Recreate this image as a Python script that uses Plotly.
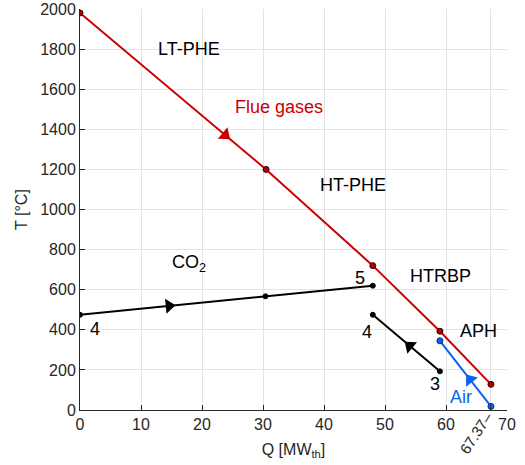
import math
import plotly.graph_objects as go

# Flue gas stream through LT-PHE, HT-PHE, HTRBP and APH
flue_q = [0.0, 30.5, 48.0, 59.0, 67.37]
flue_t = [1980, 1200, 720, 393, 128]

# CO2 stream 4 -> 5
co2_q = [0.0, 30.4, 48.0]
co2_t = [475, 567, 620]

# CO2 stream 3 -> 4 in the recuperator
co2b_q = [59.0, 48.0]
co2b_t = [193, 475]

# Combustion air in the APH
air_q = [67.37, 59.0]
air_t = [18, 345]

x_ticks = [0, 10, 20, 30, 40, 50, 60, 67.37, 70]
x_ticktext = ["0", "10", "20", "30", "40", "50", "60", " ", "70"]
y_ticks = list(range(0, 2001, 200))

X_RANGE = [0, 70]
Y_RANGE = [0, 2000]
W, H = 525, 465
MARGIN = dict(l=80, r=18, t=9, b=55)

RED = "#CC0000"
BLUE = "#0A64F0"
BLACK = "#000000"
AX = "#262626"
FONT = "Liberation Sans, Arial, sans-serif"

# pixel scale of the plot area, used to orient the flow-direction triangles
px_per_q = (W - MARGIN["l"] - MARGIN["r"]) / (X_RANGE[1] - X_RANGE[0])
px_per_t = (H - MARGIN["t"] - MARGIN["b"]) / (Y_RANGE[1] - Y_RANGE[0])

fig = go.Figure()


def stream(q, t, color, mfill, mline, msize):
    fig.add_trace(go.Scatter(
        x=q, y=t, mode="lines+markers",
        line=dict(color=color, width=2),
        marker=dict(size=msize, color=mfill, line=dict(color=mline, width=1)),
        hoverinfo="skip", showlegend=False))


def arrow(q, t, seg, frac, color):
    # triangle placed a fraction of the way along segment `seg`, pointing downstream
    q0, q1 = q[seg], q[seg + 1]
    t0, t1 = t[seg], t[seg + 1]
    qa = q0 + frac * (q1 - q0)
    ta = t0 + frac * (t1 - t0)
    ang = math.degrees(math.atan2((q1 - q0) * px_per_q, (t1 - t0) * px_per_t))
    fig.add_trace(go.Scatter(
        x=[qa], y=[ta], mode="markers",
        marker=dict(symbol="triangle-up", angle=ang,
                    size=13, color=color, line=dict(width=0)),
        hoverinfo="skip", showlegend=False))


stream(flue_q, flue_t, RED, "#B00000", "#3A0000", 6)
stream(co2_q, co2_t, BLACK, BLACK, BLACK, 5)
stream(co2b_q, co2b_t, BLACK, BLACK, BLACK, 5)
stream(air_q, air_t, BLUE, "#0A64F0", "#00307A", 6)

arrow(flue_q, flue_t, 0, 0.78, RED)
arrow(co2_q, co2_t, 0, 0.48, BLACK)
arrow(co2b_q, co2b_t, 0, 0.45, BLACK)
arrow(air_q, air_t, 0, 0.41, BLUE)

labels = [
    ("LT-PHE", 17.8, 1800, "black"),
    ("Flue gases", 32.7, 1512, RED),
    ("HT-PHE", 44.8, 1120, "black"),
    ("CO<sub>2</sub>", 17.8, 730, "black"),
    ("5", 45.9, 659, "black"),
    ("HTRBP", 59.1, 666, "black"),
    ("4", 2.5, 405, "black"),
    ("4", 47.0, 389, "black"),
    ("APH", 65.3, 396, "black"),
    ("3", 58.25, 131, "black"),
    ("Air", 62.4, 66, BLUE),
]
for txt, x, y, col in labels:
    fig.add_annotation(x=x, y=y, text=txt, showarrow=False,
                       xanchor="center", yanchor="middle",
                       font=dict(family=FONT, size=18, color=col))

# rotated label for the end of the heat-transfer range
fig.add_annotation(x=67.37, y=0, xref="x", yref="y", text="67.37–",
                   showarrow=False, textangle=-57,
                   xanchor="center", yanchor="middle",
                   xshift=-15, yshift=-22,
                   font=dict(family=FONT, size=15, color=AX))

axis_common = dict(
    showline=True, linecolor=AX, linewidth=1, mirror=False,
    ticks="inside", ticklen=5, tickcolor=AX, tickwidth=1,
    showgrid=True, gridcolor="#E3E3E3", gridwidth=1,
    zeroline=False,
    tickfont=dict(family=FONT, size=16, color=AX),
)

fig.update_xaxes(
    range=X_RANGE, tickmode="array", tickvals=x_ticks, ticktext=x_ticktext,
    title=dict(text="Q [MW<sub>th</sub>]", standoff=11,
               font=dict(family=FONT, size=16, color=AX)),
    **axis_common)
fig.update_yaxes(
    range=Y_RANGE, tickmode="array", tickvals=y_ticks,
    title=dict(text="T [°C]", standoff=8,
               font=dict(family=FONT, size=16, color=AX)),
    **axis_common)

fig.update_layout(
    width=W, height=H,
    margin=dict(**MARGIN, autoexpand=False),
    paper_bgcolor="white", plot_bgcolor="white",
    showlegend=False,
)

fig.write_html("out.html")
